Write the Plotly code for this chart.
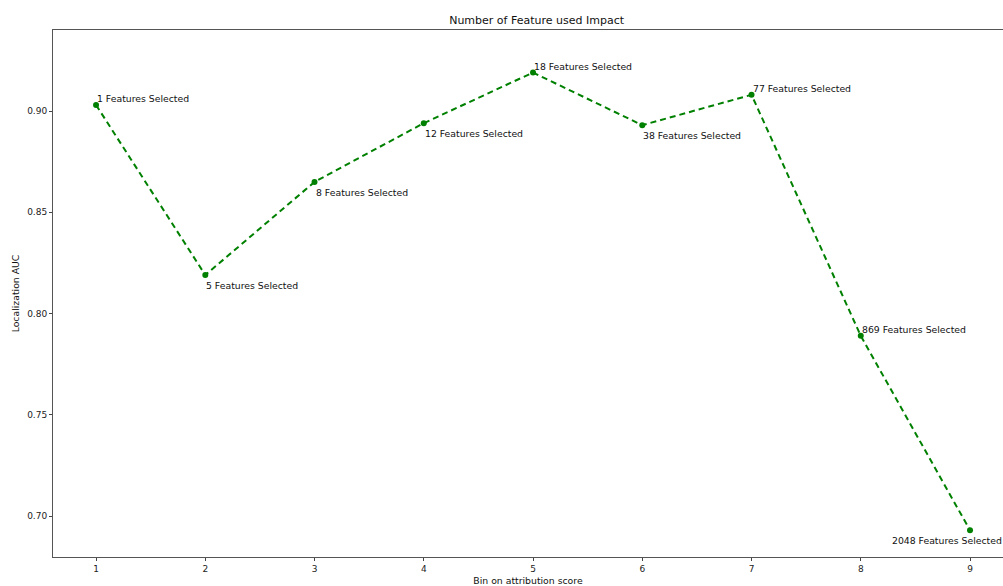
import plotly.graph_objects as go

bins = [1, 2, 3, 4, 5, 6, 7, 8, 9]
auc = [0.903, 0.819, 0.865, 0.894, 0.919, 0.893, 0.908, 0.789, 0.693]
n_features = [1, 5, 8, 12, 18, 38, 77, 869, 2048]
label_above = [True, False, False, False, True, False, True, True, False]
label_xshift = [0, 0, 0, 0, 0, 0, 0, 0, -79]

FONT = "DejaVu Sans"
GREEN = "#008000"

fig = go.Figure()
fig.add_trace(go.Scatter(
    x=bins, y=auc, mode="lines+markers",
    line=dict(color=GREEN, width=2, dash="6px,4px"),
    marker=dict(color=GREEN, size=6),
    showlegend=False, hoverinfo="skip",
))

for xv, yv, n, above, xs in zip(bins, auc, n_features, label_above, label_xshift):
    fig.add_annotation(
        x=xv, y=yv, text=f"{n} Features Selected", showarrow=False,
        xanchor="left", yanchor="bottom" if above else "top",
        xshift=xs - 1, yshift=-1 if above else -3,
        font=dict(family=FONT, size=9.3, color="#111"),
    )

fig.update_layout(
    width=1003, height=586,
    margin=dict(l=53, r=0, t=30, b=29),
    paper_bgcolor="white", plot_bgcolor="white",
    title=dict(text="Number of Feature used Impact", x=0.535, xanchor="center",
               y=1 - 20 / 586, yanchor="middle",
               font=dict(family=FONT, size=11, color="#111")),
    font=dict(family=FONT, size=9, color="#222"),
)
fig.update_xaxes(
    range=[0.606, 9.302], tickmode="array", tickvals=bins,
    ticks="outside", ticklen=3, tickwidth=1, tickcolor="#444",
    showline=True, linecolor="#555", linewidth=1, mirror=True,
    showgrid=False, zeroline=False,
    title=dict(text="Bin on attribution score", standoff=4,
               font=dict(family=FONT, size=9.3, color="#111")),
    tickfont=dict(family=FONT, size=9, color="#222"),
)
fig.update_yaxes(
    range=[0.6798, 0.940], tickmode="array",
    tickvals=[0.70, 0.75, 0.80, 0.85, 0.90],
    ticktext=["0.70", "0.75", "0.80", "0.85", "0.90"],
    ticks="outside", ticklen=3, tickwidth=1, tickcolor="#444",
    showline=True, linecolor="#555", linewidth=1, mirror=False,
    showgrid=False, zeroline=False,
    title=dict(text="Localization AUC", standoff=5,
               font=dict(family=FONT, size=9.3, color="#111")),
    tickfont=dict(family=FONT, size=9, color="#222"),
)

fig.write_html(
    "out.html",
    config={"displayModeBar": False},
    post_script="document.body.style.margin='0';document.body.style.overflow='hidden';",
)
